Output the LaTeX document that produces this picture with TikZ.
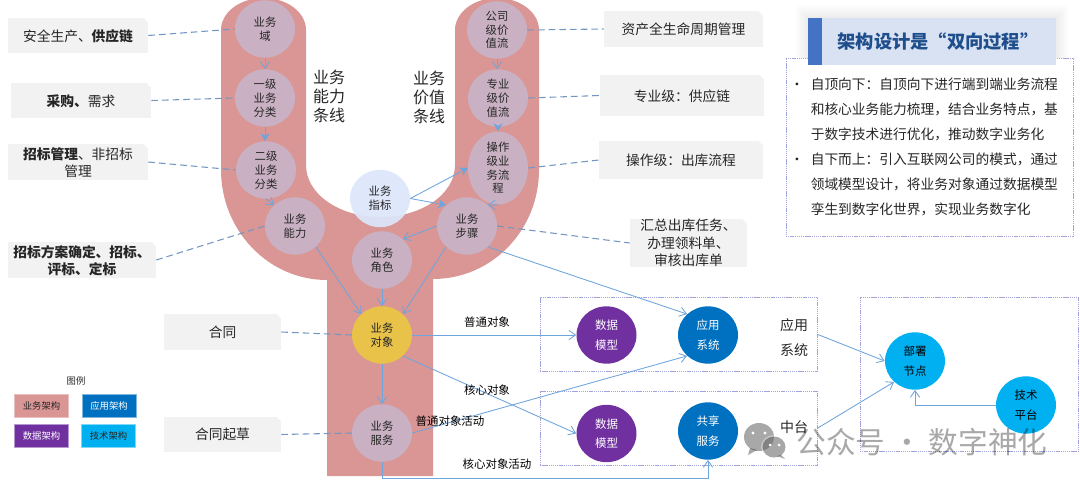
\documentclass[tikz,border=0pt]{standalone}
\usepackage{fontspec}
\setmainfont{Noto Sans CJK SC}
\usetikzlibrary{arrows.meta,shapes.geometric,calc}
\definecolor{ybody}{HTML}{D99694}
\definecolor{circ}{HTML}{C9B1C3}
\definecolor{indic}{HTML}{DDE6FB}
\definecolor{objc}{HTML}{E9C349}
\definecolor{appc}{HTML}{0070C0}
\definecolor{datac}{HTML}{7030A0}
\definecolor{techc}{HTML}{00B0F0}
\definecolor{lnk}{HTML}{6FA5DD}
\definecolor{dsh}{HTML}{7397C2}
\definecolor{boxl}{HTML}{A3A3DC}
\definecolor{callf}{HTML}{F2F2F2}
\definecolor{txt}{HTML}{262626}
\definecolor{titlef}{HTML}{D9E2F3}
\definecolor{titleb}{HTML}{4472C4}
\definecolor{titlet}{HTML}{1F4E8C}
\newcommand{\snip}[1]{\fill[white] (#1.north east) -- ++(-5,0) -- ++(5,5) -- cycle;}
\newcommand{\dn}[2][4pt]{\raisebox{-#1}[0pt][0pt]{\begin{tabular}{@{}c@{}}#2\end{tabular}}}
\tikzset{
  oval/.style={ellipse,inner sep=0pt,minimum width=45pt,minimum height=43pt,align=center,text=txt,
    font=\fontsize{8.5}{10.3}\selectfont},
  bizc/.style={oval,fill=circ},
  solc/.style={oval,minimum height=43pt,text=white,font=\fontsize{8.6}{14.5}\selectfont},
  callout/.style={rectangle,fill=callf,inner sep=0pt,text=txt,font=\fontsize{10.3}{13}\selectfont},
  side/.style={inner sep=0pt,align=left,text=txt,font=\fontsize{12}{14.3}\selectfont},
  edgelab/.style={inner sep=0pt,text=black,font=\fontsize{8.6}{9}\selectfont},
  legbox/.style={rectangle,inner sep=0pt,minimum width=40.5pt,minimum height=17pt,font=\fontsize{7}{8}\selectfont,line width=.5pt},
  arr/.style={draw=lnk,line width=.65pt,-{Straight Barb[length=5pt,width=7pt]}},
  arrf/.style={draw=lnk,line width=.65pt,-{Stealth[length=6pt,width=7pt]}},
  dashl/.style={draw=dsh,line width=.8pt,dash pattern=on 5pt off 3pt},
  dbox/.style={rectangle,draw=boxl,line width=.6pt,dash pattern=on 1pt off .6pt,inner sep=0pt}
}
\begin{document}
\begin{tikzpicture}[x=0.75pt,y=-0.75pt]
\useasboundingbox (0,0) rectangle (1080,486);
% Y-shaped band
\begin{scope}
\clip (0,0) rectangle (1080,486);
\fill[ybody] (221,30) .. controls (221,12.3) and (240,-2) .. (263.5,-2)
  .. controls (287,-2) and (306,12.3) .. (306,30) -- (306,165)
  .. controls (306,194) and (339,217) .. (380.5,217)
  .. controls (422,217) and (455,194) .. (455,165) -- (455,30)
  .. controls (455,12.3) and (474,-2) .. (497,-2)
  .. controls (520,-2) and (539,12.3) .. (539,30) -- (539,170)
  .. controls (539,230) and (492,279) .. (433,279) -- (433,476) -- (327,476) -- (327,280)
  .. controls (268,280) and (221,230) .. (221,170) -- cycle;
\end{scope}
% side labels
\node[side] (lblcap) at (329,96) {业务\\能力\\条线};
\node[side] (lblval) at (429,97) {业务\\价值\\条线};
% business circles
\node[bizc] (dom) at (265,29) {业务\\域};
\node[bizc] (l1) at (265,98) {一级\\业务\\分类};
\node[bizc] (l2) at (266,170) {二级\\业务\\分类};
\node[bizc] (cap) at (295,226) {业务\\能力};
\node[bizc] (vs1) at (497,30) {公司\\级价\\值流};
\node[bizc] (vs2) at (498,98) {专业\\级价\\值流};
\node[bizc] (proc) at (498,168) {操作\\级业\\务流\\程};
\node[bizc] (step) at (467,226) {业务\\步骤};
\node[oval,fill=indic,fill opacity=.93,text opacity=1] (ind) at (380,198.5) {业务\\指标};
\node[bizc] (role) at (382,260) {业务\\角色};
\node[oval,fill=objc] (obj) at (382,335) {业务\\对象};
\node[bizc] (svc) at (382,433) {业务\\服务};
% solution boxes
\node[dbox,minimum width=208pt,minimum height=56pt] (boxA) at (678.75,334.5) {};
\node[dbox,minimum width=208pt,minimum height=55.5pt] (boxM) at (678.75,428) {};
\node[dbox,minimum width=163.5pt,minimum height=116pt] (boxT) at (969,374.5) {};
\node[solc,fill=datac] (dm1) at (606.5,335) {数据\\模型};
\node[solc,fill=appc] (app) at (708,335) {应用\\系统};
\node[solc,fill=datac] (dm2) at (606.5,433.5) {数据\\模型};
\node[solc,fill=appc] (share) at (708,431) {共享\\服务};
\node[solc,fill=techc,text=black] (dep) at (915,361) {部署\\节点};
\node[solc,fill=techc,text=black] (tech) at (1026,405) {技术\\平台};
\node[inner sep=0pt,align=center,text=txt,font=\fontsize{10.5}{18.7}\selectfont] (lapp) at (794,338) {应用\\系统};
\node[inner sep=0pt,text=txt,font=\fontsize{10.5}{12}\selectfont] (lmid) at (794,427) {中台};
% callouts
\node[callout,minimum width=105pt,minimum height=26.3pt] (c1) at (78,35.5) {\dn[4.1pt]{安全生产、\textbf{供应链}}};
\node[callout,minimum width=105pt,minimum height=26.3pt] (c2) at (81,100.5) {\dn[4.1pt]{\textbf{采购、}需求}};
\node[callout,minimum width=105pt,minimum height=27pt] (c3) at (78,162) {\dn[4.5pt]{\textbf{招标管理}、非招标\\管理}};
\node[callout,minimum width=111pt,minimum height=27pt] (c4) at (82,260) {\dn[4.5pt]{\textbf{招标方案确定、招标、}\\\textbf{评标、定标}}};
\node[callout,minimum width=119.3pt,minimum height=27pt] (c5) at (683.5,29) {\dn[3.75pt]{资产全生命周期管理}};
\node[callout,minimum width=123pt,minimum height=30.8pt] (c6) at (682,95.5) {\dn[4.1pt]{专业级：供应链}};
\node[callout,minimum width=123pt,minimum height=28.5pt] (c7) at (681,160) {\dn[3.75pt]{操作级：出库流程}};
\node[callout,minimum width=87.8pt,minimum height=36pt] (c8) at (688.5,243) {\dn[3.75pt]{汇总出库任务、\\办理领料单、\\审核出库单}};
\node[callout,minimum width=87.8pt,minimum height=27pt] (c9) at (222.5,332) {合同};
\node[callout,minimum width=87.8pt,minimum height=26.3pt] (c10) at (222.5,434.5) {合同起草};
\snip{c1}\snip{c2}\snip{c3}\snip{c4}\snip{c5}\snip{c6}\snip{c7}\snip{c8}\snip{c9}\snip{c10}
% dashed leaders
\draw[dashl] (c1.east) -- (dom.west);
\draw[dashl] (c2.east) -- (l1.west);
\draw[dashl] (c3.east) -- (l2.west);
\draw[dashl] (c4.east) -- (cap.west);
\draw[dashl] (vs1.east) -- (c5.west);
\draw[dashl] (vs2.east) -- (c6.west);
\draw[dashl] (proc.east) -- (c7.west);
\draw[dashl] (step.east) -- (c8.west);
\draw[dashl] (c9.east) -- (obj.west);
\draw[dashl] (c10.east) -- (svc.west);
% arrows
\draw[arr] (dom.south) -- (l1.north);
\draw[arrf] (l1.south) -- (l2.north -| l1.south);
\draw[arr] (l2.south) -- (cap.135);
\draw[arr] (vs1.south) -- (vs2.north -| vs1.south);
\draw[arrf] (vs2.south) -- (proc.north);
\draw[arr] (proc.south) -- (step.45);
\draw[arrf] (ind.east) -- (proc.west);
\draw[arrf] (ind.east) -- (step.135);
\draw[arr] (step.west) -- (role.45);
\draw[arr] (cap.-45) -- (obj.135);
\draw[arr] (role.south) -- (obj.north);
\draw[arr] (step.225) -- (obj.45);
\draw[arr] (obj.south) -- (svc.north);
\draw[arr] (obj.east) -- (dm1.west);
\draw[arr] (obj.-45) -- (dm2.west);
\draw[arr] (svc.east) -- (app.225);
\draw[arr] (step.-45) -- (app.135);
\coordinate (bend) at (382,478);
\draw[arr] (svc.south) -- (bend) -| (share.south);
\draw[arr] (boxA.east) -- (dep.west);
\draw[arr] (boxM.east) -- (dep.-135);
\draw[arr] (tech.west) -| (dep.south);
% edge labels
\node[edgelab] (e1) at (487,322) {普通对象};
\node[edgelab] (e2) at (487,390) {核心对象};
\node[edgelab] (e3) at (450,421) {普通对象活动};
\node[edgelab] (e4) at (497,464) {核心对象活动};
% legend
\node[inner sep=0pt,text=txt,font=\fontsize{7}{8}\selectfont] (legt) at (76,381) {图例};
\node[legbox,fill=ybody,draw=ybody!60!white,text=txt] (lg1) at (41.5,405.5) {业务架构};
\node[legbox,fill=appc,draw=appc!50!white,text=white] (lg2) at (109,405.5) {应用架构};
\node[legbox,fill=datac,draw=datac!50!white,text=white] (lg3) at (41.5,436) {数据架构};
\node[legbox,fill=techc,draw=techc!50!white,text=txt] (lg4) at (108.5,436) {技术架构};
% panel
\foreach \d in {2,4,6,8,10,12}{\fill[black,opacity=.012] (808-\d,18-\d) rectangle (1056+\d,65+\d);}
\node[dbox,fill=white,minimum width=215.3pt,minimum height=133.5pt] (panel) at (929.5,147) {};
\node[rectangle,fill=titlef,inner sep=0pt,minimum width=186pt,minimum height=35.3pt,text=titlet,font=\bfseries\fontsize{13.7}{15}\selectfont] (title) at (932,41.5) {\hspace*{9pt}架构设计是“双向过程”};
\fill[titleb] (title.north west) rectangle ($(title.south west)+(14,0)$);
\node[inner sep=0pt,text=txt,font=\fontsize{10}{12}\selectfont] (b1) at (797,86) {•};
\node[inner sep=0pt,text=txt,font=\fontsize{10}{12}\selectfont] (b2) at (797,161) {•};
\node[anchor=north west,inner sep=0pt,align=left,text=txt,font=\fontsize{10.3}{18.75}\selectfont] (ptext) at (810.5,77.5)
 {自顶向下：自顶向下进行端到端业务流程\\和核心业务能力梳理，结合业务特点，基\\于数字技术进行优化，推动数字业务化\\自下而上：引入互联网公司的模式，通过\\领域模型设计，将业务对象通过数据模型\\孪生到数字化世界，实现业务数字化};
% watermark
\begin{scope}[opacity=.34]
\fill[black] (759,437) ellipse [x radius=15,y radius=14];
\fill[black] (750,448) -- (748,455) -- (757,450) -- cycle;
\fill[white] (774,447) ellipse [x radius=13,y radius=12];
\fill[black] (774,447) ellipse [x radius=11.5,y radius=10.5];
\fill[black] (781,455) -- (785,459) -- (777,456) -- cycle;
\end{scope}
\fill[white] (753,433) circle [radius=1.7] (765,433) circle [radius=1.7] (770,445) circle [radius=1.5] (779,445) circle [radius=1.5];
\node[inner sep=0pt,text=black,text opacity=.34,font=\fontsize{22.3}{24}\selectfont] (wm) at (922,442) {公众号 · 数字神化};
\end{tikzpicture}
\end{document}
